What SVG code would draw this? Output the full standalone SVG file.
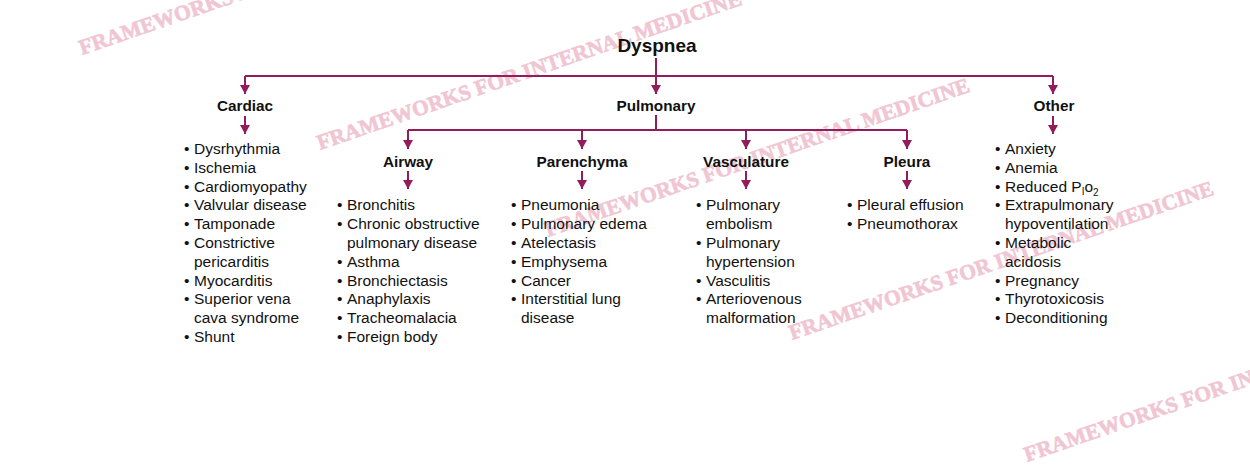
<svg xmlns="http://www.w3.org/2000/svg" width="1250" height="473" viewBox="0 0 1250 473">
<style>
.wm{font-family:"Liberation Serif","Times New Roman",serif;font-weight:bold;font-size:21.5px;fill:#f1c6d3;stroke:#f1c6d3;stroke-width:0.7}
.t0{font-family:"Liberation Sans",Arial,sans-serif;font-weight:bold;font-size:19px;fill:#111;text-anchor:middle}
.t1{font-family:"Liberation Sans",Arial,sans-serif;font-weight:bold;font-size:15.3px;fill:#111;text-anchor:middle}
.li{font-family:"Liberation Sans",Arial,sans-serif;font-size:15.5px;fill:#111}
.c{fill:none;stroke:#931c5b;stroke-width:2}
.a{fill:none;stroke:#931c5b;stroke-width:2;marker-end:url(#ah)}
</style>
<defs>
<marker id="ah" markerUnits="userSpaceOnUse" viewBox="0 0 9 10" markerWidth="9" markerHeight="10" refX="9" refY="5" orient="auto">
<path d="M0,0 L9,5 L0,10 z" fill="#931c5b"/>
</marker>
</defs>
<rect width="1250" height="473" fill="#fff"/>
<g id="watermarks">
<text class="wm" transform="translate(82,55) rotate(-19)">FRAMEWORKS FOR INTERNAL MEDICINE</text>
<text class="wm" transform="translate(320,150) rotate(-19)">FRAMEWORKS FOR INTERNAL MEDICINE</text>
<text class="wm" transform="translate(548,237) rotate(-19)">FRAMEWORKS FOR INTERNAL MEDICINE</text>
<text class="wm" transform="translate(792,340) rotate(-19)">FRAMEWORKS FOR INTERNAL MEDICINE</text>
<text class="wm" transform="translate(1027,462) rotate(-19)">FRAMEWORKS FOR INTERNAL MEDICINE</text>
</g>
<g id="connectors">
<path class="c" d="M656,58 V76"/>
<path class="c" d="M245,76 H1053"/>
<path class="a" d="M245,76 V94"/>
<path class="a" d="M656,76 V94"/>
<path class="a" d="M1053,76 V94"/>
<path class="a" d="M245,116 V134"/>
<path class="a" d="M1053,116 V134"/>
<path class="c" d="M656,115 V130"/>
<path class="c" d="M408,130 H907"/>
<path class="a" d="M408,130 V149"/>
<path class="a" d="M582,130 V149"/>
<path class="a" d="M746,130 V149"/>
<path class="a" d="M907,130 V149"/>
<path class="a" d="M408,171 V189"/>
<path class="a" d="M582,171 V189"/>
<path class="a" d="M746,171 V189"/>
<path class="a" d="M907,171 V189"/>
</g>
<g id="dyspnea"><text class="t0" x="657" y="52">Dyspnea</text></g>
<g id="cardiac">
<text class="t1" x="245" y="111">Cardiac</text>
<text class="li">
<tspan x="184" y="154">•</tspan><tspan x="194" y="154">Dysrhythmia</tspan>
<tspan x="184" y="172.8">•</tspan><tspan x="194" y="172.8">Ischemia</tspan>
<tspan x="184" y="191.6">•</tspan><tspan x="194" y="191.6">Cardiomyopathy</tspan>
<tspan x="184" y="210.4">•</tspan><tspan x="194" y="210.4">Valvular disease</tspan>
<tspan x="184" y="229.2">•</tspan><tspan x="194" y="229.2">Tamponade</tspan>
<tspan x="184" y="248">•</tspan><tspan x="194" y="248">Constrictive</tspan>
<tspan x="194" y="266.8">pericarditis</tspan>
<tspan x="184" y="285.6">•</tspan><tspan x="194" y="285.6">Myocarditis</tspan>
<tspan x="184" y="304.4">•</tspan><tspan x="194" y="304.4">Superior vena</tspan>
<tspan x="194" y="323.2">cava syndrome</tspan>
<tspan x="184" y="342">•</tspan><tspan x="194" y="342">Shunt</tspan>
</text>
</g>
<g id="pulmonary"><text class="t1" x="656" y="111">Pulmonary</text></g>
<g id="airway">
<text class="t1" x="408" y="166.5">Airway</text>
<text class="li">
<tspan x="337" y="210.4">•</tspan><tspan x="347" y="210.4">Bronchitis</tspan>
<tspan x="337" y="229.2">•</tspan><tspan x="347" y="229.2">Chronic obstructive</tspan>
<tspan x="347" y="248">pulmonary disease</tspan>
<tspan x="337" y="266.8">•</tspan><tspan x="347" y="266.8">Asthma</tspan>
<tspan x="337" y="285.6">•</tspan><tspan x="347" y="285.6">Bronchiectasis</tspan>
<tspan x="337" y="304.4">•</tspan><tspan x="347" y="304.4">Anaphylaxis</tspan>
<tspan x="337" y="323.2">•</tspan><tspan x="347" y="323.2">Tracheomalacia</tspan>
<tspan x="337" y="342">•</tspan><tspan x="347" y="342">Foreign body</tspan>
</text>
</g>
<g id="parenchyma">
<text class="t1" x="582" y="166.5">Parenchyma</text>
<text class="li">
<tspan x="511" y="210.4">•</tspan><tspan x="521" y="210.4">Pneumonia</tspan>
<tspan x="511" y="229.2">•</tspan><tspan x="521" y="229.2">Pulmonary edema</tspan>
<tspan x="511" y="248">•</tspan><tspan x="521" y="248">Atelectasis</tspan>
<tspan x="511" y="266.8">•</tspan><tspan x="521" y="266.8">Emphysema</tspan>
<tspan x="511" y="285.6">•</tspan><tspan x="521" y="285.6">Cancer</tspan>
<tspan x="511" y="304.4">•</tspan><tspan x="521" y="304.4">Interstitial lung</tspan>
<tspan x="521" y="323.2">disease</tspan>
</text>
</g>
<g id="vasculature">
<text class="t1" x="746" y="166.5">Vasculature</text>
<text class="li">
<tspan x="696" y="210.4">•</tspan><tspan x="706" y="210.4">Pulmonary</tspan>
<tspan x="706" y="229.2">embolism</tspan>
<tspan x="696" y="248">•</tspan><tspan x="706" y="248">Pulmonary</tspan>
<tspan x="706" y="266.8">hypertension</tspan>
<tspan x="696" y="285.6">•</tspan><tspan x="706" y="285.6">Vasculitis</tspan>
<tspan x="696" y="304.4">•</tspan><tspan x="706" y="304.4">Arteriovenous</tspan>
<tspan x="706" y="323.2">malformation</tspan>
</text>
</g>
<g id="pleura">
<text class="t1" x="907" y="166.5">Pleura</text>
<text class="li">
<tspan x="847" y="210.4">•</tspan><tspan x="857" y="210.4">Pleural effusion</tspan>
<tspan x="847" y="229.2">•</tspan><tspan x="857" y="229.2">Pneumothorax</tspan>
</text>
</g>
<g id="other">
<text class="t1" x="1054" y="111">Other</text>
<text class="li">
<tspan x="995" y="154">•</tspan><tspan x="1005" y="154">Anxiety</tspan>
<tspan x="995" y="172.8">•</tspan><tspan x="1005" y="172.8">Anemia</tspan>
<tspan x="995" y="191.6">•</tspan><tspan x="1005" y="191.6">Reduced P</tspan><tspan font-size="10" dy="3">I</tspan><tspan dy="-3">o</tspan><tspan font-size="10" dy="4">2</tspan>
<tspan x="995" y="210.4">•</tspan><tspan x="1005" y="210.4">Extrapulmonary</tspan>
<tspan x="1005" y="229.2">hypoventilation</tspan>
<tspan x="995" y="248">•</tspan><tspan x="1005" y="248">Metabolic</tspan>
<tspan x="1005" y="266.8">acidosis</tspan>
<tspan x="995" y="285.6">•</tspan><tspan x="1005" y="285.6">Pregnancy</tspan>
<tspan x="995" y="304.4">•</tspan><tspan x="1005" y="304.4">Thyrotoxicosis</tspan>
<tspan x="995" y="323.2">•</tspan><tspan x="1005" y="323.2">Deconditioning</tspan>
</text>
</g>
</svg>
